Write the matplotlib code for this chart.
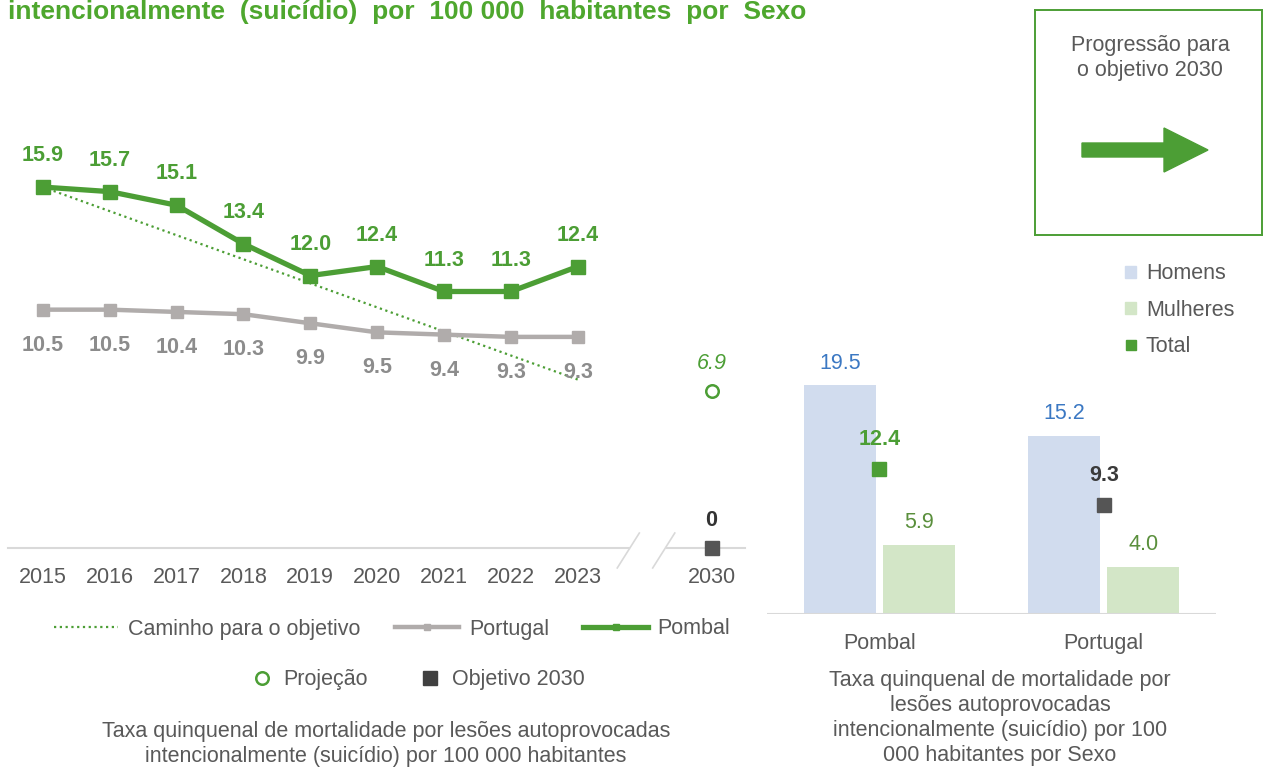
import matplotlib.pyplot as plt
from matplotlib.lines import Line2D
from matplotlib.patches import Patch, Polygon

plt.rcParams['font.family'] = ['Liberation Sans', 'DejaVu Sans']

# data
anos = ["2015", "2016", "2017", "2018", "2019", "2020", "2021", "2022", "2023"]
pombal = [15.9, 15.7, 15.1, 13.4, 12.0, 12.4, 11.3, 11.3, 12.4]
portugal = [10.5, 10.5, 10.4, 10.3, 9.9, 9.5, 9.4, 9.3, 9.3]
caminho = [15.9, 14.84, 13.78, 12.72, 11.66, 10.6, 9.54, 8.48, 7.42]
projecao_2030 = 6.9
objetivo_2030 = 0

sexo_locais = ["Pombal", "Portugal"]
homens = [19.5, 15.2]
mulheres = [5.9, 4.0]
total = [12.4, 9.3]

GREEN = "#4c9e35"
GRAY_LINE = "#b0acab"
GRAY_LABEL = "#8c8c8c"
TEXT = "#595959"
DARK = "#555555"
FS = 15.5
FSB = 15.5

W, H = 1267, 767


def fx(px):
    return px / W


def fy(py):
    return 1 - py / H


fig = plt.figure(figsize=(W / 100, H / 100), dpi=100)

# cut-off title at top
fig.text(fx(8), fy(19), "intencionalmente  (suicídio)  por  100 000  habitantes  por  Sexo",
         color="#4ea72e", fontsize=19, fontweight="bold", ha="left", va="baseline")

# ---------- line chart ----------
ax = fig.add_axes([fx(8), fy(548), (745 - 8) / W, (548 - 139.4) / H])
x = list(range(len(anos)))
x2030 = len(anos) + 1

ax.plot(x, caminho, color=GREEN, lw=1.6, ls=(0, (1, 1.6)), zorder=2)
ax.plot(x, portugal, color=GRAY_LINE, lw=3.2, marker="s", ms=9, zorder=3)
ax.plot(x, pombal, color=GREEN, lw=3.8, marker="s", ms=9.5, zorder=4)
ax.plot([x2030], [projecao_2030], ls="none", marker="o", ms=9, mfc="white",
        mec=GREEN, mew=1.8, zorder=4)
ax.plot([x2030], [objetivo_2030], ls="none", marker="s", ms=10, color=DARK,
        zorder=5, clip_on=False)

for i, v in enumerate(pombal):
    ax.annotate(f"{v:.1f}", (i, v), xytext=(0, 22.5), textcoords="offset points",
                ha="center", va="center", color=GREEN, fontsize=FSB, fontweight="bold")
for i, v in enumerate(portugal):
    ax.annotate(f"{v:.1f}", (i, v), xytext=(0, -25.5), textcoords="offset points",
                ha="center", va="center", color=GRAY_LABEL, fontsize=FSB, fontweight="bold")
ax.annotate(f"{projecao_2030:.1f}", (x2030, projecao_2030), xytext=(0, 20),
            textcoords="offset points", ha="center", va="center", color=GREEN,
            fontsize=FS, fontstyle="italic")
ax.annotate(f"{objetivo_2030}", (x2030, objetivo_2030), xytext=(0, 20),
            textcoords="offset points", ha="center", va="center", color="#333333",
            fontsize=FSB, fontweight="bold")

ax.set_xlim(-0.52, 10.5)
ax.set_ylim(0, 18)
ax.set_xticks(x + [x2030])
ax.set_xticklabels(anos + ["2030"])
ax.tick_params(axis="x", length=0, pad=14, labelsize=FS, labelcolor=TEXT)
ax.set_yticks([])
for s in ax.spines.values():
    s.set_visible(False)

# broken axis line
ax.plot([-0.52, 8.77], [0, 0], color="#d9d9d9", lw=1.5, zorder=1, clip_on=False)
ax.plot([9.33, 10.5], [0, 0], color="#d9d9d9", lw=1.5, zorder=1, clip_on=False)
ax.plot([8.59, 8.92], [-0.88, 0.66], color="#d9d9d9", lw=1.2, clip_on=False)
ax.plot([9.12, 9.45], [-0.88, 0.66], color="#d9d9d9", lw=1.2, clip_on=False)

leg1 = [
    Line2D([], [], color=GREEN, lw=1.6, ls=(0, (1, 1.6))),
    Line2D([], [], color=GRAY_LINE, lw=3.2, marker="s", ms=5),
    Line2D([], [], color=GREEN, lw=3.8, marker="s", ms=5),
]
fig.legend(leg1, ["Caminho para o objetivo", "Portugal", "Pombal"],
           loc="center", bbox_to_anchor=(fx(392), fy(629)), ncol=3, frameon=False,
           fontsize=FS, handlelength=3.0, handletextpad=0.45, columnspacing=1.6,
           labelcolor=TEXT)
leg2 = [
    Line2D([], [], ls="none", marker="o", ms=9, mfc="white", mec=GREEN, mew=1.8),
    Line2D([], [], ls="none", marker="s", ms=10, color="#404040"),
]
fig.legend(leg2, ["Projeção", "Objetivo 2030"], loc="center",
           bbox_to_anchor=(fx(418), fy(680)), ncol=2, frameon=False, fontsize=FS,
           handlelength=1.0, handletextpad=0.5, columnspacing=2.4, labelcolor=TEXT)

fig.text(fx(386), fy(744), "Taxa quinquenal de mortalidade por lesões autoprovocadas\n"
         "intencionalmente (suicídio) por 100 000 habitantes",
         ha="center", va="center", fontsize=FS, color=TEXT, linespacing=1.2)

# ---------- bar chart ----------
bx = fig.add_axes([fx(767), fy(614), (1216 - 767) / W, (614 - 356) / H])
pos = list(range(len(sexo_locais)))
bw = 0.32
off = 0.176
bx.bar([p - off for p in pos], homens, bw, color="#d1dcee")
bx.bar([p + off for p in pos], mulheres, bw, color="#d3e6c7")
for p, v in zip(pos, homens):
    bx.annotate(f"{v:.1f}", (p - off, v), xytext=(0, 16), textcoords="offset points",
                ha="center", va="center", color="#3b78c3", fontsize=FS)
for p, v in zip(pos, mulheres):
    bx.annotate(f"{v:.1f}", (p + off, v), xytext=(0, 16), textcoords="offset points",
                ha="center", va="center", color="#5a8f3c", fontsize=FS)
tot_colors = [GREEN, DARK]
lab_colors = [GREEN, "#3a3a3a"]
for p, v, c, lc in zip(pos, total, tot_colors, lab_colors):
    bx.plot([p], [v], ls="none", marker="s", ms=10, color=c, zorder=4)
    bx.annotate(f"{v:.1f}", (p, v), xytext=(0, 21), textcoords="offset points",
                ha="center", va="center", color=lc, fontsize=FSB, fontweight="bold")

bx.set_xlim(-0.5, 1.5)
bx.set_ylim(0, 22)
bx.set_xticks(pos)
bx.set_xticklabels(sexo_locais)
bx.tick_params(axis="x", length=0, pad=14, labelsize=FS, labelcolor=TEXT)
bx.set_yticks([])
for s in bx.spines.values():
    s.set_visible(False)
bx.axhline(0, color="#d9d9d9", lw=2.2, zorder=5)

leg3 = [
    Patch(color="#d1dcee"),
    Patch(color="#d3e6c7"),
    Line2D([], [], ls="none", marker="s", ms=7.5, color=GREEN),
]
fig.legend(leg3, ["Homens", "Mulheres", "Total"], loc="upper left",
           bbox_to_anchor=(fx(1121), fy(259)), frameon=False, fontsize=FS,
           handlelength=0.5, handleheight=0.5, handletextpad=0.45, labelspacing=0.72,
           labelcolor=TEXT, borderaxespad=0, borderpad=0.2)

fig.text(fx(1000), fy(718), "Taxa quinquenal de mortalidade por\nlesões autoprovocadas\n"
         "intencionalmente (suicídio) por 100\n000 habitantes por Sexo",
         ha="center", va="center", fontsize=FS, color=TEXT, linespacing=1.25)

# ---------- progression box ----------
px_ = fig.add_axes([fx(1035), fy(235), (1262 - 1035) / W, (235 - 10) / H])
px_.set_xlim(0, 227)
px_.set_ylim(225, 0)
px_.set_xticks([])
px_.set_yticks([])
for s in px_.spines.values():
    s.set_color(GREEN)
    s.set_linewidth(1.4)
px_.text(115, 48, "Progressão para\no objetivo 2030", ha="center", va="center",
         fontsize=FS, color=TEXT, linespacing=1.3)
px_.add_patch(Polygon([(47, 133), (129, 133), (129, 118), (173, 140), (129, 162),
                       (129, 147), (47, 147)], closed=True, color=GREEN))

fig.savefig("out.png", dpi=100)
